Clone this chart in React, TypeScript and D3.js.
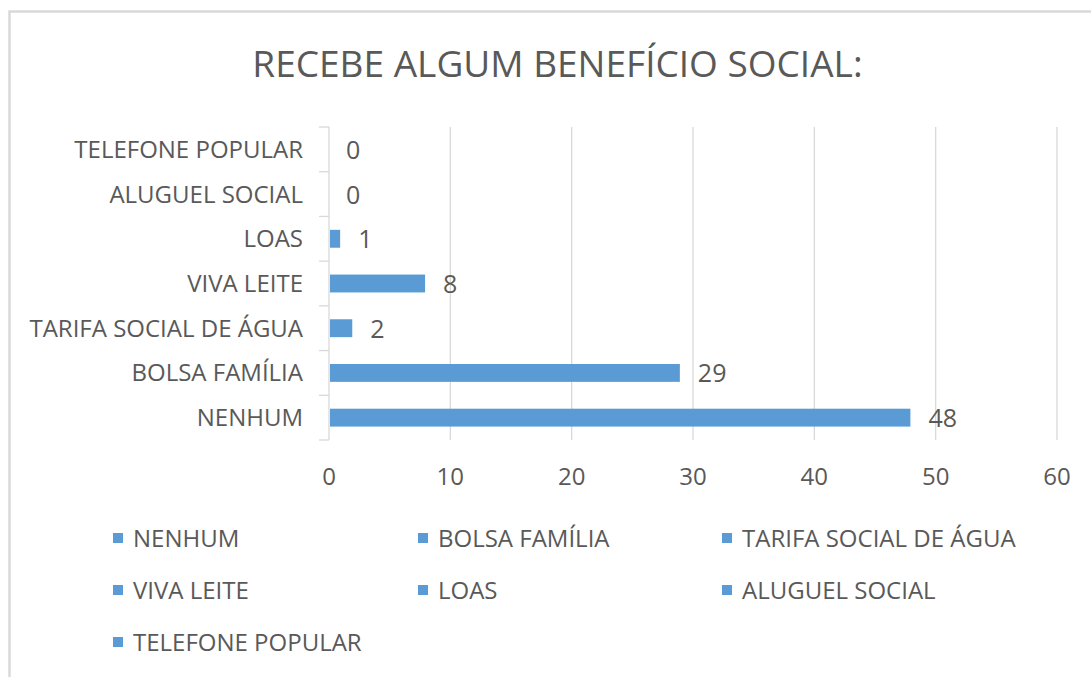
import React from "react";
import * as d3 from "d3";

const title = "RECEBE ALGUM BENEFÍCIO SOCIAL:";
const categories = [
  "NENHUM",
  "BOLSA FAMÍLIA",
  "TARIFA SOCIAL DE ÁGUA",
  "VIVA LEITE",
  "LOAS",
  "ALUGUEL SOCIAL",
  "TELEFONE POPULAR",
];
const values = [48, 29, 2, 8, 1, 0, 0];
const xTicks = [0, 10, 20, 30, 40, 50, 60];

const W = 1091;
const H = 677;
const FONT = "'Open Sans', sans-serif";
const TXT = "#595959";
const BAR = "#5b9bd5";
const GRID = "#d9d9d9";

export default function App() {
  const plotLeft = 329;
  const plotRight = 1057;
  const plotTop = 127;
  const plotBottom = 440;

  const x = d3.scaleLinear().domain([0, 60]).range([plotLeft, plotRight]);
  const yOrder = [...categories].reverse();
  const y = d3
    .scaleBand<string>()
    .domain(yOrder)
    .range([plotTop, plotBottom])
    .paddingInner(0.6)
    .paddingOuter(0.3);
  const step = (plotBottom - plotTop) / categories.length;
  const sepYs = d3.range(categories.length + 1).map((i) => plotTop + i * step);

  const legendCols = [113, 418, 722];
  const legendRows = [538, 590, 642];
  const FS = 24;

  return (
    <svg
      width={W}
      height={H}
      style={{ position: "absolute", left: 0, top: 0, background: "#fff" }}
      fontFamily={FONT}
    >
      <rect x={0} y={0} width={W} height={H} fill="#fff" />
      <rect
        x={9.5}
        y={11.5}
        width={1200}
        height={800}
        fill="none"
        stroke={GRID}
        strokeWidth={2.5}
      />
      <text x={557.5} y={77} textAnchor="middle" fontSize={37} fill={TXT}>
        {title}
      </text>

      {/* gridlines */}
      {xTicks.slice(1).map((t) => (
        <line
          key={"g" + t}
          x1={x(t)}
          x2={x(t)}
          y1={plotTop}
          y2={plotBottom}
          stroke={GRID}
          strokeWidth={1.3}
        />
      ))}
      {/* vertical axis */}
      <line
        x1={plotLeft}
        x2={plotLeft}
        y1={plotTop}
        y2={plotBottom}
        stroke={GRID}
        strokeWidth={1.3}
      />
      {sepYs.map((sy, i) => (
        <line
          key={"s" + i}
          x1={plotLeft - 10}
          x2={plotLeft}
          y1={sy}
          y2={sy}
          stroke={GRID}
          strokeWidth={1.3}
        />
      ))}

      {/* bars */}
      {categories.map((c, i) => (
        <rect
          key={"b" + c}
          x={x(0) + 1}
          y={y(c)!}
          width={Math.max(0, x(values[i]) - x(0) - 2)}
          height={y.bandwidth()}
          fill={BAR}
        />
      ))}
      {/* value labels */}
      {categories.map((c, i) => (
        <text
          key={"v" + c}
          x={x(values[i]) + 17}
          y={y(c)! + y.bandwidth() / 2 + 9.5}
          fontSize={25}
          fill={TXT}
        >
          {values[i]}
        </text>
      ))}
      {/* category labels */}
      {categories.map((c) => (
        <text
          key={"c" + c}
          x={303}
          y={y(c)! + y.bandwidth() / 2 + 8.5}
          textAnchor="end"
          fontSize={FS}
          fill={TXT}
        >
          {c}
        </text>
      ))}
      {/* x tick labels */}
      {xTicks.map((t) => (
        <text
          key={"t" + t}
          x={x(t)}
          y={485}
          textAnchor="middle"
          fontSize={FS}
          fill={TXT}
        >
          {t}
        </text>
      ))}
      {/* legend */}
      {categories.map((c, i) => {
        const lx = legendCols[i % 3];
        const ly = legendRows[Math.floor(i / 3)];
        return (
          <g key={"l" + c}>
            <rect x={lx} y={ly - 5} width={10} height={10} fill={BAR} />
            <text x={lx + 20} y={ly + 8.5} fontSize={FS} fill={TXT}>
              {c}
            </text>
          </g>
        );
      })}
    </svg>
  );
}
